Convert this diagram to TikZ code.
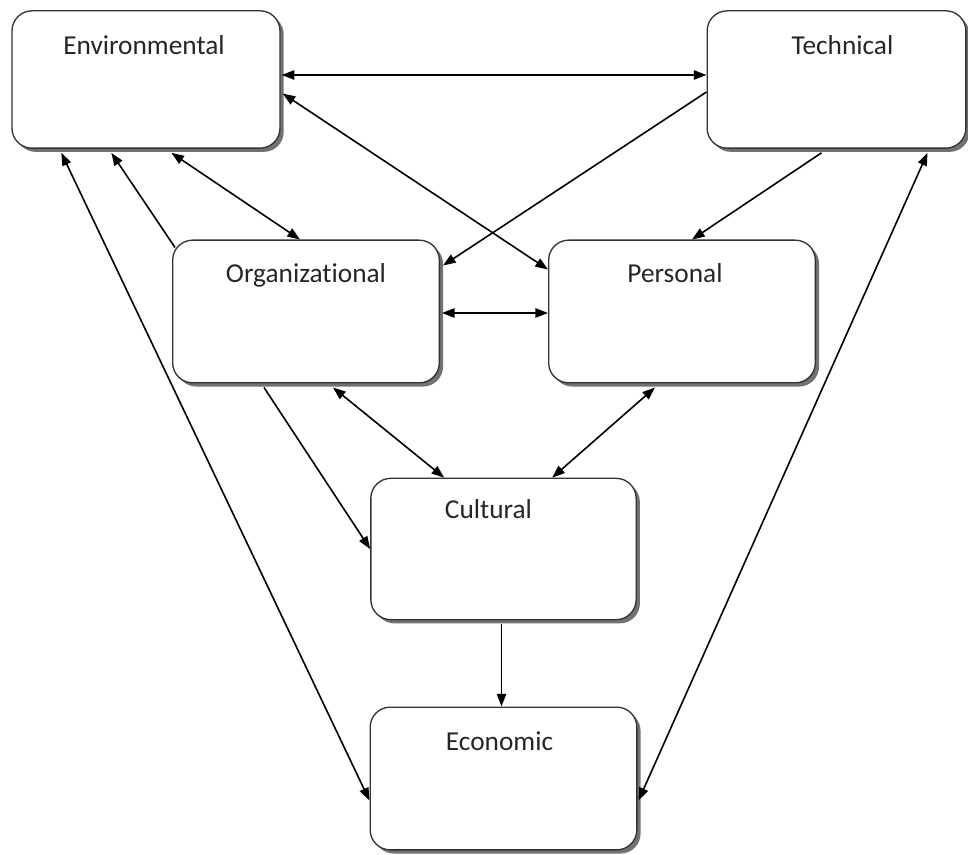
\documentclass[tikz,border=0pt]{standalone}
\usepackage{fontspec}
\setmainfont[RawFeature={-liga}]{Carlito}
\usetikzlibrary{arrows.meta,calc,shadows}

\begin{document}
\begin{tikzpicture}[x=0.75pt,y=-0.75pt,
  factorbox/.style={draw=black!80, line width=1pt, rounded corners=15pt, fill=white,
    minimum width=#1, inner sep=0pt,
    drop shadow={shadow xshift=2.8pt, shadow yshift=-2.8pt, fill=black!65, opacity=0.85}},
  factorbox/.default=200pt,
  boxtitle/.style={anchor=north, font=\fontsize{20.5}{24}\selectfont, text=black!85, inner sep=0pt},
  link/.style={line width=1.2pt, -{Triangle[length=9.5pt,width=7pt]}},
  dlink/.style={line width=1.2pt, {Triangle[length=9.5pt,width=7pt]}-{Triangle[length=9.5pt,width=7pt]}}
]
\useasboundingbox (0,0) rectangle (968,855);

% factor boxes
\node[factorbox=201pt, minimum height=103pt] (env)  at (146,79.5)  {};
\node[factorbox=194pt, minimum height=103pt] (tech) at (836.5,79.5) {};
\node[factorbox=200pt, minimum height=107pt] (org)  at (306,311.5) {};
\node[factorbox=200pt, minimum height=107pt] (pers) at (682,311.5) {};
\node[factorbox=199pt, minimum height=106pt] (cult) at (503.5,549) {};
\node[factorbox=200pt, minimum height=107pt] (econ) at (503.5,778.5) {};

% titles
\node[boxtitle] (envt)  at ($(env.north)+(-2,25)$)  {Environmental};
\node[boxtitle] (techt) at ($(tech.north)+(6,25)$)  {Technical};
\node[boxtitle] (orgt)  at ($(org.north)+(0,24)$)   {Organizational};
\node[boxtitle] (perst) at ($(pers.north)+(-7,24)$) {Personal};
\node[boxtitle] (cultt) at ($(cult.north)+(-15,22)$) {Cultural};
\node[boxtitle] (econt) at ($(econ.north)+(-4,25)$) {Economic};

% relations
\draw[dlink] ($(env.east)+(1,-4.5)$) -- ($(tech.west)+(0,-4.5)$);
\draw[link]  ($(tech.west)+(0,12.5)$) -- ($(org.north east)+(3,26)$);
\draw[dlink] ($(env.east)+(2,14)$) -- ($(pers.north west)+(0,30)$);
\draw[link]  ($(tech.south west)+(115,4)$) -- ($(pers.north west)+(144,0)$);
\draw[dlink] ($(env.south west)+(160,4)$) -- ($(org.north west)+(128,0)$);
\draw[link]  ($(org.north west)+(3,8)$) -- ($(env.south west)+(100,4)$);
\draw[dlink] ($(env.south west)+(50,4)$) -- ($(econ.west)+(0,22)$);
\draw[dlink] ($(tech.south west)+(221,4)$) -- ($(econ.east)+(1,22)$);
\draw[dlink] ($(org.east)+(2,1.5)$) -- ($(pers.west)+(0,1.5)$);
\draw[dlink] ($(org.south west)+(161,4)$) -- ($(cult.north west)+(74,0)$);
\draw[dlink] ($(pers.south west)+(107,4)$) -- ($(cult.north west)+(182,0)$);
\draw[link]  ($(org.south west)+(92,4)$) -- (cult.west);
\draw[link]  ($(cult.south)+(-2,4)$) -- ($(econ.north)+(-2,0)$);
\end{tikzpicture}
\end{document}
